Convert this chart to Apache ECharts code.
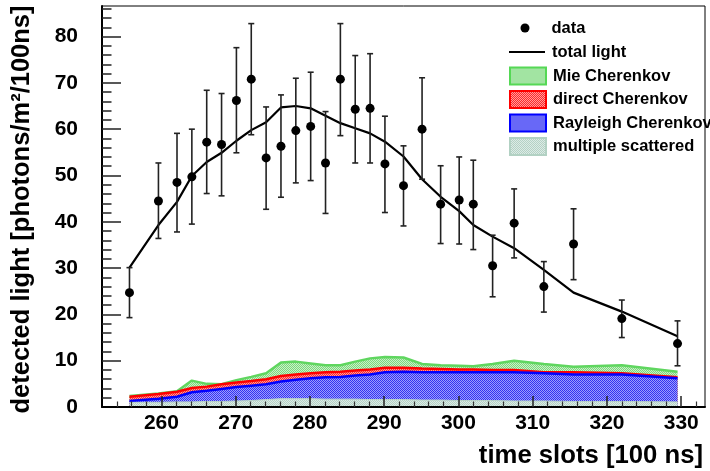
<!DOCTYPE html>
<html>
<head>
<meta charset="utf-8">
<script src="https://cdn.jsdelivr.net/npm/echarts@6/dist/echarts.min.js"></script>
<style>
html,body{margin:0;padding:0;background:#fff;}
#chart{width:710px;height:471px;}
</style>
</head>
<body>
<div id="chart"></div>
<script>
// ---- data ----
const timeSlots = [255.7, 259.6, 262.1, 264.1, 266.1, 268.1, 270.1, 272.1, 274.1, 276.1, 278.1, 280.1, 282.1, 284.1, 286.1, 288.1, 290.1, 292.6, 295.1, 297.6, 300.1, 302.0, 304.6, 307.5, 311.5, 315.5, 322.0, 329.5];
const dataValues = [24.7, 44.5, 48.5, 49.7, 57.2, 56.7, 66.2, 70.8, 53.8, 56.3, 59.7, 60.6, 52.7, 70.8, 64.3, 64.5, 52.5, 47.8, 60.0, 43.8, 44.7, 43.8, 30.5, 39.7, 26.0, 35.2, 19.1, 13.7];
const errHigh = [30.1, 52.7, 59.1, 60.0, 68.4, 67.7, 77.6, 82.8, 64.8, 67.4, 71.0, 72.3, 63.8, 82.8, 75.9, 76.3, 62.8, 56.4, 71.1, 52.1, 54.0, 53.3, 37.1, 47.1, 31.4, 42.8, 23.1, 18.6];
const errLow = [19.3, 36.4, 37.8, 39.5, 46.1, 45.6, 54.9, 58.8, 42.7, 45.3, 48.4, 48.9, 41.8, 58.6, 52.7, 52.7, 42.0, 39.1, 49.2, 35.3, 35.2, 34.0, 23.8, 32.2, 20.5, 27.5, 15.0, 8.9];
const totalLight = [30.1, 39.3, 44.3, 49.9, 52.9, 54.9, 57.5, 59.8, 61.5, 64.7, 65.0, 64.5, 62.9, 61.3, 60.2, 59.1, 57.3, 54.1, 49.2, 45.4, 42.3, 39.3, 36.8, 34.3, 29.6, 24.7, 20.6, 15.3];
// cumulative band tops
const mieCherenkov = [2.4, 2.9, 3.4, 5.7, 5.0, 4.9, 5.8, 6.5, 7.3, 9.6, 9.8, 9.4, 9.0, 9.0, 9.8, 10.5, 10.8, 10.7, 9.3, 9.0, 8.9, 8.8, 9.3, 10.0, 9.3, 8.7, 9.0, 7.6];
const directCherenkov = [2.2, 2.8, 3.3, 4.1, 4.4, 4.9, 5.3, 5.6, 6.0, 6.7, 7.0, 7.3, 7.5, 7.6, 7.9, 8.1, 8.5, 8.5, 8.3, 8.2, 8.1, 8.1, 8.0, 8.0, 7.5, 7.5, 7.3, 6.4];
const rayleighCherenkov = [1.3, 1.8, 2.2, 3.2, 3.5, 3.9, 4.3, 4.6, 4.9, 5.5, 5.9, 6.2, 6.4, 6.5, 6.8, 7.0, 7.5, 7.6, 7.5, 7.5, 7.5, 7.5, 7.5, 7.5, 7.3, 7.0, 7.0, 6.2];
const multipleScattered = [1.0, 1.0, 1.1, 1.1, 1.2, 1.2, 1.3, 1.4, 1.6, 1.8, 1.8, 1.8, 1.7, 1.7, 1.7, 1.6, 1.6, 1.6, 1.5, 1.5, 1.4, 1.4, 1.4, 1.3, 1.3, 1.2, 1.2, 1.1];
const xMajorTicks = [260, 270, 280, 290, 300, 310, 320, 330];
const xMinorTicks = [254, 256, 258, 262, 264, 266, 268, 272, 274, 276, 278, 282, 284, 286, 288, 292, 294, 296, 298, 302, 304, 306, 308, 312, 314, 316, 318, 322, 324, 326, 328, 332];
const yMinorTicks = [2, 4, 6, 8, 12, 14, 16, 18, 22, 24, 26, 28, 32, 34, 36, 38, 42, 44, 46, 48, 52, 54, 56, 58, 62, 64, 66, 68, 72, 74, 76, 78, 82, 84, 86];

const FONT = "'Liberation Sans', Arial, Helvetica, sans-serif";

// soft two-tone checker fills (ROOT-like dotted pattern)
function pattern(c1, c2) {
  const c = document.createElement('canvas');
  c.width = 2; c.height = 2;
  const g = c.getContext('2d');
  g.fillStyle = c2; g.fillRect(0, 0, 2, 2);
  g.fillStyle = c1; g.fillRect(0, 0, 1, 1); g.fillRect(1, 1, 1, 1);
  return { image: c, repeat: 'repeat' };
}
const greenPat = pattern('#7cd87c', '#c8f0c8');
const redPat = pattern('#ff2a2a', '#ff9c9c');
const bluePat = pattern('#3434f0', '#9c9cff');
const greyPat = pattern('#b4d1c5', '#dcebe5');

const pairs = (ys) => timeSlots.map((t, i) => [t, ys[i]]);

const chart = echarts.init(document.getElementById('chart'), null, { renderer: 'canvas' });

function bandSeries(name, ys, lineColor, fill, lw) {
  return {
    name: name, type: 'line', data: pairs(ys), symbol: 'none', smooth: false,
    itemStyle: { color: lineColor },
    lineStyle: { color: lineColor, width: lw },
    areaStyle: { color: fill, opacity: 1 },
    silent: true, z: 2
  };
}

const legendText = { fontFamily: FONT, fontWeight: 'bold', fontSize: 16.5, color: '#000', lineHeight: 20 };

const option = {
  animation: false,
  backgroundColor: '#fff',
  grid: { left: 102, right: 5, top: 6, bottom: 64, show: true, borderColor: '#000', borderWidth: 1, backgroundColor: '#fff' },
  xAxis: [{
    type: 'value', min: 252, max: 333.2, z: 3,
    axisLine: { show: true, onZero: false, lineStyle: { color: '#000', width: 2 } },
    axisTick: { show: true, inside: true, length: 11, customValues: xMajorTicks, lineStyle: { color: '#222', width: 1.5 } },
    axisLabel: { customValues: xMajorTicks, margin: 6, fontFamily: FONT, fontWeight: 'bold', fontSize: 21, color: '#000' },
    splitLine: { show: false }
  }, {
    type: 'value', min: 252, max: 333.2, position: 'bottom', z: 3,
    axisLine: { show: false },
    axisTick: { show: true, inside: true, length: 5.5, customValues: xMinorTicks, lineStyle: { color: '#333', width: 1.2 } },
    axisLabel: { show: false },
    splitLine: { show: false }
  }],
  yAxis: [{
    type: 'value', min: 0, max: 86.6, interval: 10,
    axisLine: { show: true, onZero: false, lineStyle: { color: '#000', width: 2 } },
    axisTick: { show: true, inside: true, length: 19, lineStyle: { color: '#222', width: 1.5 } },
    axisLabel: { margin: 24, fontFamily: FONT, fontWeight: 'bold', fontSize: 21, color: '#000', showMaxLabel: false },
    splitLine: { show: false }
  }, {
    type: 'value', min: 0, max: 86.6, position: 'left',
    axisLine: { show: false },
    axisTick: { show: true, inside: true, length: 9.5, customValues: yMinorTicks, lineStyle: { color: '#222', width: 1.5 } },
    axisLabel: { show: false },
    splitLine: { show: false }
  }],
  legend: [{
    data: [{ name: 'data', icon: 'circle', itemStyle: { color: '#000', opacity: 1 } }],
    left: 520.5, top: 18, orient: 'vertical', padding: 0,
    itemWidth: 9, itemHeight: 9, selectedMode: false,
    textStyle: Object.assign({}, legendText, { padding: [0, 0, 0, 17] })
  }, {
    data: [{ name: 'total light', icon: 'rect', itemStyle: { color: '#000' } }],
    left: 509, top: 42, orient: 'vertical', padding: 0,
    itemWidth: 36, itemHeight: 2.2, selectedMode: false,
    textStyle: Object.assign({}, legendText, { padding: [0, 0, 0, 2] })
  }, {
    data: [
      { name: 'Mie Cherenkov', icon: 'rect', itemStyle: { color: greenPat, borderColor: '#55d855', borderWidth: 2, opacity: 1 } },
      { name: 'direct Cherenkov', icon: 'rect', itemStyle: { color: redPat, borderColor: '#ff0000', borderWidth: 2, opacity: 1 } },
      { name: 'Rayleigh Cherenkov', icon: 'rect', itemStyle: { color: bluePat, borderColor: '#0000ff', borderWidth: 2, opacity: 1 } },
      { name: 'multiple scattered', icon: 'rect', itemStyle: { color: greyPat, borderColor: '#b2d1c3', borderWidth: 2, opacity: 1 } }
    ],
    left: 509, top: 66, orient: 'vertical', padding: 0, itemGap: 3.5,
    itemWidth: 36, itemHeight: 17, selectedMode: false,
    textStyle: Object.assign({}, legendText, { padding: [0, 0, 0, 2] })
  }],
  graphic: [{
    type: 'text', right: 7, top: 443,
    style: { text: 'time slots [100 ns]', fontFamily: FONT, fontWeight: 'bold', fontSize: 25.7, fill: '#000' }
  }, {
    type: 'text', x: 22, y: 209.5, rotation: Math.PI / 2,
    style: { text: 'detected light [photons/m²/100ns]', fontFamily: FONT, fontWeight: 'bold', fontSize: 25.5, fill: '#000', align: 'center', verticalAlign: 'middle' }
  }],
  series: [
    bandSeries('Mie Cherenkov', mieCherenkov, '#5fd65f', greenPat, 2.5),
    bandSeries('direct Cherenkov', directCherenkov, '#ff0000', redPat, 2.5),
    bandSeries('Rayleigh Cherenkov', rayleighCherenkov, '#0000ff', bluePat, 2.5),
    bandSeries('multiple scattered', multipleScattered, '#b8d4c8', greyPat, 1),
    {
      name: 'total light', type: 'line', data: pairs(totalLight), symbol: 'none', smooth: false,
      itemStyle: { color: '#000' }, lineStyle: { color: '#000', width: 2.2 }, z: 3, silent: true
    },
    {
      name: 'error', type: 'custom', z: 4, silent: true,
      data: timeSlots.map((t, i) => [t, errLow[i], errHigh[i]]),
      encode: { x: 0, y: [1, 2] },
      renderItem: function (params, api) {
        const x = api.value(0);
        const lo = api.coord([x, api.value(1)]);
        const hi = api.coord([x, api.value(2)]);
        const w = 3;
        const st = { stroke: '#222', lineWidth: 1.6 };
        return {
          type: 'group', children: [
            { type: 'line', shape: { x1: hi[0], y1: hi[1], x2: lo[0], y2: lo[1] }, style: st },
            { type: 'line', shape: { x1: hi[0] - w, y1: hi[1], x2: hi[0] + w, y2: hi[1] }, style: st },
            { type: 'line', shape: { x1: lo[0] - w, y1: lo[1], x2: lo[0] + w, y2: lo[1] }, style: st }
          ]
        };
      }
    },
    {
      name: 'data', type: 'scatter', data: pairs(dataValues), symbol: 'circle', symbolSize: 9,
      itemStyle: { color: '#000', opacity: 1 }, z: 5, silent: true
    }
  ]
};
chart.setOption(option);
</script>
</body>
</html>
